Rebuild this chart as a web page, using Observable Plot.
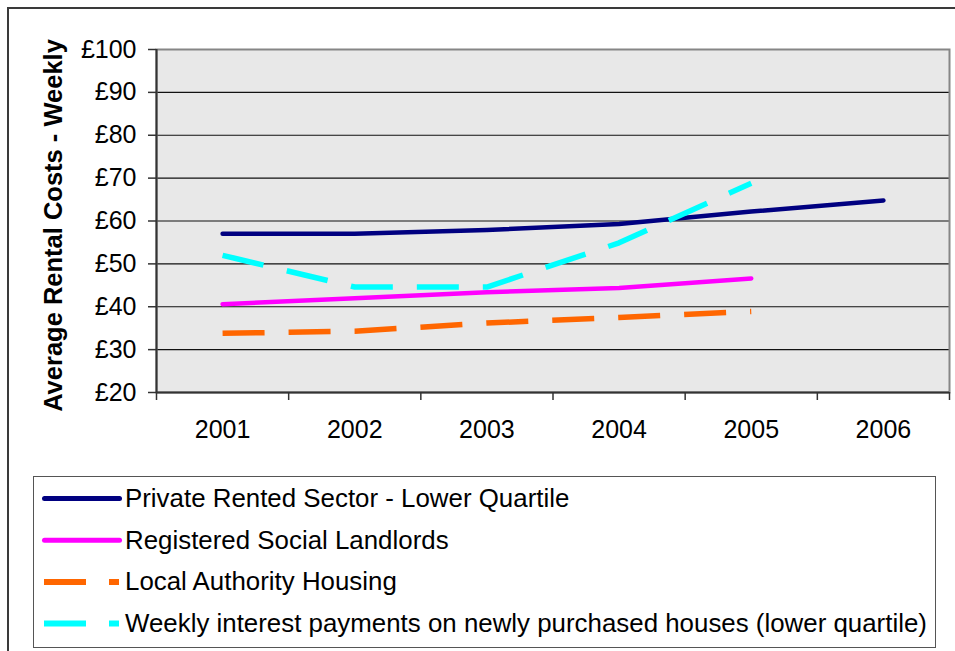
<!DOCTYPE html>
<html><head><meta charset="utf-8">
<script src="https://cdn.jsdelivr.net/npm/d3@7"></script>
<script src="https://cdn.jsdelivr.net/npm/@observablehq/plot@0.6"></script>
<style>
body{margin:0;background:#fff;font-family:"Liberation Sans",Arial,sans-serif;}
#wrap{position:relative;width:955px;height:651px;overflow:hidden;}
#outer{position:absolute;left:7px;top:7px;width:1000px;height:700px;border-left:2px solid #3a3a3a;border-top:2px solid #3a3a3a;}
#chart{position:absolute;left:0;top:0;}
#legend{position:absolute;left:33px;top:476px;width:903px;height:172px;border:1px solid #555;box-sizing:border-box;background:#fff;}
#legend svg{display:block;}
</style></head><body>
<div id="wrap"><div id="outer"></div><div id="chart"></div><div id="legend"></div></div>
<script>
const years = [2001, 2002, 2003, 2004, 2005, 2006];
const seriesNames = [
  "Private Rented Sector - Lower Quartile",
  "Registered Social Landlords",
  "Local Authority Housing",
  "Weekly interest payments on newly purchased houses (lower quartile)"
];
const privateRented    = [57.0, 57.0, 57.9, 59.3, 62.2, 64.8];
const socialLandlords  = [40.6, 42.0, 43.4, 44.4, 46.6, null];
const localAuthority   = [33.8, 34.3, 36.2, 37.5, 38.9, null];
const interestPayments = [52.0, 44.6, 44.6, 54.9, 68.8, null];
const yTicks = [20, 30, 40, 50, 60, 70, 80, 90, 100];
const yTickLabels = ["£20", "£30", "£40", "£50", "£60", "£70", "£80", "£90", "£100"];
const yTitle = "Average Rental Costs - Weekly";

const seriesValues = [privateRented, socialLandlords, localAuthority, interestPayments];
const styles = [
  {stroke: "#000080", width: 4.5, dash: null},
  {stroke: "#FF00FF", width: 4.5, dash: null},
  {stroke: "#FF6600", width: 5.5, dash: "42 24"},
  {stroke: "#00FFFF", width: 5.5, dash: "42 24"}
];
const rows = seriesNames.map((name, s) =>
  years.map((year, i) => ({series: name, year, value: seriesValues[s][i]})).filter(d => d.value != null)
);
const boundaries = years.map(y => y - 0.5).concat([years[years.length - 1] + 0.5]);
const font = "Liberation Sans, Arial, sans-serif";

const chart = Plot.plot({
  width: 955,
  height: 470,
  marginLeft: 156,
  marginRight: 6,
  marginTop: 49,
  marginBottom: 78,
  style: {fontFamily: font, fontSize: "25px", color: "#000", background: "transparent", overflow: "visible"},
  x: {type: "linear", domain: [boundaries[0], boundaries[boundaries.length - 1]]},
  y: {domain: [yTicks[0], yTicks[yTicks.length - 1]]},
  marks: [
    Plot.frame({fill: "#e8e8e8", stroke: null}),
    Plot.ruleY(yTicks.slice(1, -1), {stroke: "#111", strokeWidth: 1.2}),
    Plot.frame({stroke: "#868686", strokeWidth: 2}),
    Plot.ruleX([boundaries[0]], {stroke: "#333", strokeWidth: 2}),
    Plot.ruleY([yTicks[0]], {stroke: "#333", strokeWidth: 2}),
    Plot.axisY({ticks: yTicks, tickFormat: d => yTickLabels[yTicks.indexOf(d)], tickSize: 8, tickPadding: 12, label: null, stroke: "#333", strokeWidth: 1.5}),
    Plot.axisX({ticks: boundaries, tickFormat: () => "", tickSize: 8, label: null, stroke: "#333", strokeWidth: 1.5}),
    Plot.axisX({ticks: years, tickFormat: d => String(d), tickSize: 0, tickPadding: 28, label: null}),
    ...rows.map((data, s) => Plot.line(data, {
      x: "year", y: "value",
      stroke: styles[s].stroke,
      strokeWidth: styles[s].width,
      strokeDasharray: styles[s].dash,
      strokeLinecap: styles[s].dash ? "butt" : "round",
      strokeLinejoin: "round"
    })),
    Plot.text([yTitle], {frameAnchor: "left", rotate: -90, dx: -95, dy: 4.5, textAnchor: "middle", lineAnchor: "bottom", fontWeight: "bold", fontSize: 25.5, fill: "#000"})
  ]
});
document.getElementById("chart").appendChild(chart);

// Legend
const lg = d3.select("#legend").append("svg").attr("width", 901).attr("height", 170);
seriesNames.forEach((name, s) => {
  const base = 30 + s * 41.7;
  const cy = base - 8.5;
  const st = styles[s];
  const ln = lg.append("line")
    .attr("x1", st.dash ? 10 : 10.5).attr("x2", st.dash ? 85 : 85.5)
    .attr("y1", cy).attr("y2", cy)
    .attr("stroke", st.stroke)
    .attr("stroke-width", st.dash ? 6 : 5)
    .attr("stroke-linecap", st.dash ? "butt" : "round");
  if (st.dash) ln.attr("stroke-dasharray", "42 23");
  lg.append("text")
    .attr("transform", `translate(91,${base}) scale(1.035,1)`)
    .attr("font-family", font).attr("font-size", 25).attr("fill", "#000")
    .text(name);
});
</script>
</body></html>
